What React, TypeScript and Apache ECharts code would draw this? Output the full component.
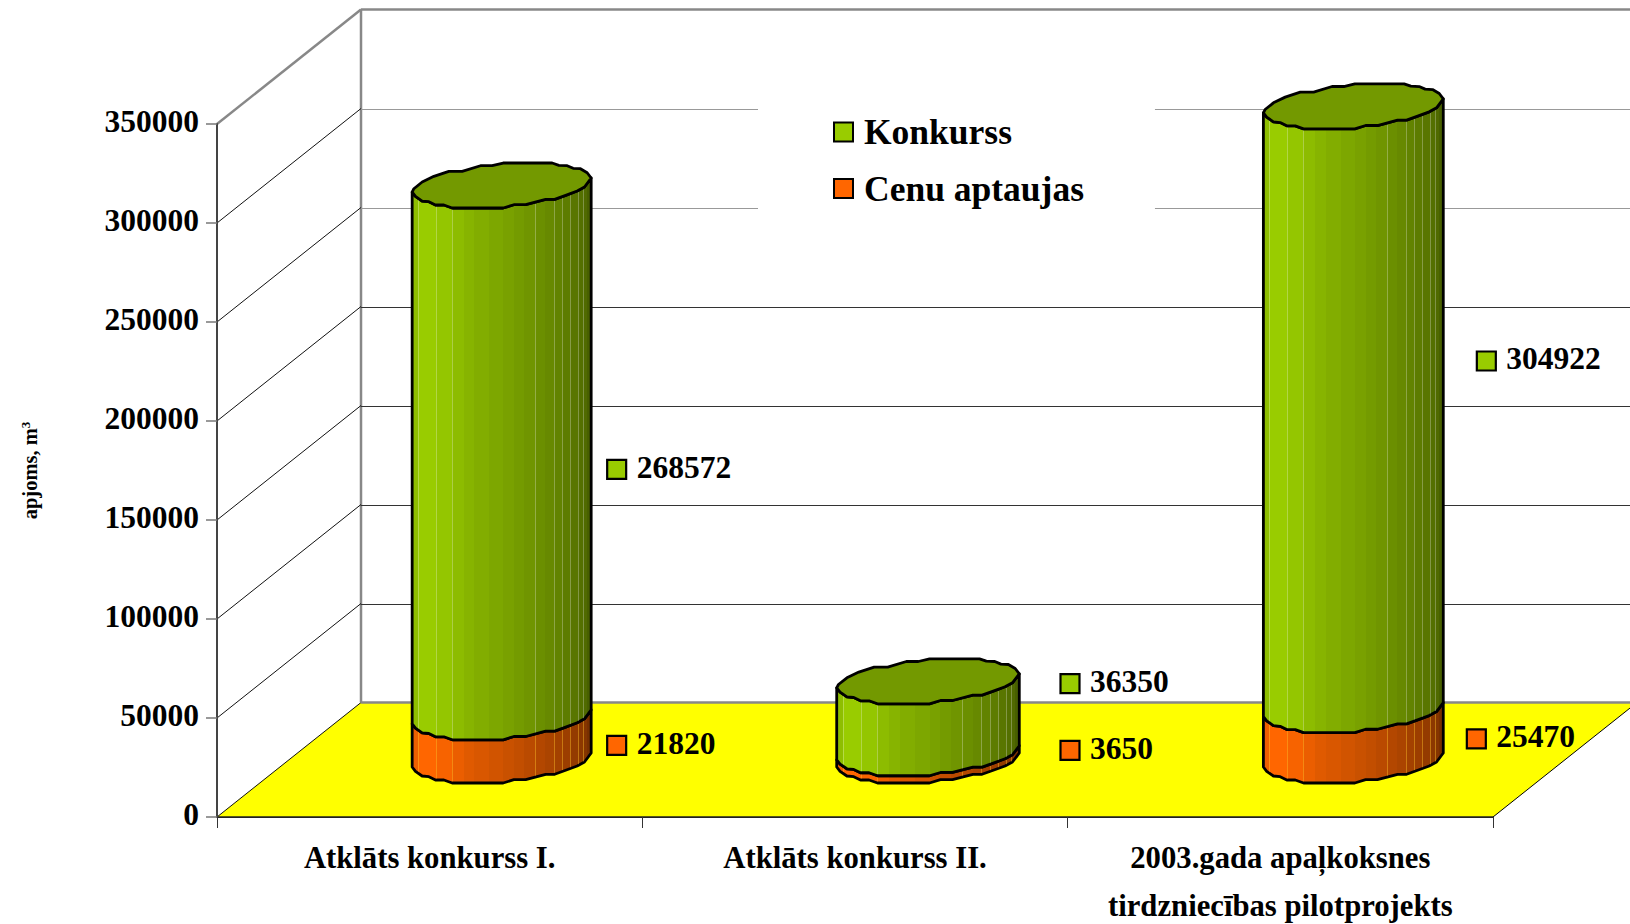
import React, { useEffect, useRef } from "react";
import * as echarts from "echarts";

const categories = [
  "Atklāts konkurss I.",
  "Atklāts konkurss II.",
  "2003.gada apaļkoksnes\ntirdzniecības pilotprojekts",
];
const konkurss = [268572, 36350, 304922];
const cenuAptaujas = [21820, 3650, 25470];
const yTicks = [0, 50000, 100000, 150000, 200000, 250000, 300000, 350000];

const FONT = '"Liberation Serif", "Times New Roman", serif';
const DEPTH_X = 144;
const DEPTH_Y = -114.5;
const MID_X = 72;
const MID_Y = -57;

// Outline of the faceted cylinder cap, clockwise from its left corner.
const OUTLINE: number[][] = [
  [-89.5, 7], [-87.8, 3.7], [-79.5, -3], [-67.8, -8.7], [-52.8, -13.7], [-39.5, -13.7],
  [-21.2, -19.3], [-9.5, -19.3], [1.5, -22], [50.5, -22], [57.2, -19.7], [65.5, -19.3],
  [71.5, -16.7], [78.8, -16.3], [85.5, -12.3], [89.5, -7], [82.8, 2], [75.5, 6],
  [64, 10.3], [53, 14.3], [44, 14.3], [24, 19.7], [12.2, 19.7], [1.5, 23],
  [-49.5, 23], [-57.8, 20], [-66.2, 20], [-72.8, 16.7], [-79.5, 16], [-86.2, 11.3],
];
const LOWER_ARC = OUTLINE.slice(15).concat([OUTLINE[0]]);
const BAND_EDGES = [-89.5, -83.5, -65.8, -49.8, -37.8, -27.2, -12.5, 1.5, 12.2, 22.8, 33.2, 43.8, 52.2, 60.5, 68.2, 76.2, 81.2, 85.5, 89.5];
const BAND_LIGHT = [0.93, 1, 0.97, 0.92, 0.88, 0.85, 0.82, 0.79, 0.76, 0.73, 0.7, 0.67, 0.64, 0.61, 0.58, 0.55, 0.52, 0.47];
const SEAMS = [-83.5, -65.8, -49.8, 33.2, 52.2, 60.5, 68.2, 76.2, 81.2];
const COLUMN_SCALE = [1, 1.02, 1.005];
const COLUMN_SHIFT = [0, 1, 1];

const LABEL_NUDGE: Record<string, number[][]> = {
  Konkurss: [[105, 18.5], [132, -33.2], [123, -46.7]],
  "Cenu aptaujas": [[105, 7], [132, -6], [113, 4]],
};

function shade(hex: string, f: number) {
  const n = parseInt(hex.slice(1), 16);
  const c = [(n >> 16) & 255, (n >> 8) & 255, n & 255].map((v) => Math.round(v * f));
  return `rgb(${c[0]},${c[1]},${c[2]})`;
}

function bandedFill(hex: string) {
  const stops: any[] = [];
  const w = BAND_EDGES[BAND_EDGES.length - 1] - BAND_EDGES[0];
  BAND_LIGHT.forEach((f, i) => {
    const color = shade(hex, f);
    stops.push({ offset: (BAND_EDGES[i] - BAND_EDGES[0]) / w, color });
    stops.push({ offset: (BAND_EDGES[i + 1] - BAND_EDGES[0]) / w, color });
  });
  return new echarts.graphic.LinearGradient(0, 0, 1, 0, stops);
}

function arcY(x: number) {
  for (let i = 0; i < LOWER_ARC.length - 1; i++) {
    const a = LOWER_ARC[i];
    const b = LOWER_ARC[i + 1];
    if (x <= a[0] && x >= b[0]) {
      const t = a[0] === b[0] ? 0 : (a[0] - x) / (a[0] - b[0]);
      return a[1] + (b[1] - a[1]) * t;
    }
  }
  return 0;
}

function stackSeries(name: string, color: string, seamColor: string, capColor: string | null, values: number[], bases: number[], z: number) {
  return {
    type: "custom",
    name,
    z,
    clip: false,
    itemStyle: { color },
    encode: { x: 0, y: 2 },
    data: values.map((v, i) => [i, bases[i], bases[i] + v, v]),
    renderItem: (_p: any, api: any) => {
      const idx = api.value(0);
      const low = api.coord([idx, api.value(1)]);
      const high = api.coord([idx, api.value(2)]);
      const s = COLUMN_SCALE[idx];
      const cx = low[0] + MID_X + COLUMN_SHIFT[idx];
      const by = low[1] + MID_Y;
      const ty = high[1] + MID_Y;
      const top = LOWER_ARC.map((p) => [cx + p[0] * s, ty + p[1]]);
      const bottom = LOWER_ARC.map((p) => [cx + p[0] * s, by + p[1]]).reverse();
      const children: any[] = [
        {
          type: "polygon",
          shape: { points: top.concat(bottom) },
          style: { fill: bandedFill(color), stroke: "#000", lineWidth: 2.8, lineJoin: "round" },
        },
      ];
      SEAMS.forEach((x) => {
        const sx = Math.round(cx + x * s) + 0.5;
        const y = arcY(x);
        children.push({
          type: "line",
          shape: { x1: sx, y1: ty + y + 1.5, x2: sx, y2: by + y - 1.5 },
          style: { stroke: seamColor, lineWidth: 1 },
        });
      });
      if (capColor) {
        children.push({
          type: "polygon",
          shape: { points: OUTLINE.map((p) => [cx + p[0] * s, ty + p[1]]) },
          style: { fill: capColor, stroke: "#000", lineWidth: 2.8, lineJoin: "round" },
        });
      }
      const nudge = LABEL_NUDGE[name][idx];
      const lx = cx + nudge[0];
      const ly = (by + ty) / 2 + nudge[1];
      children.push({
        type: "rect",
        shape: { x: lx + 0.5, y: ly - 9.5, width: 19, height: 19 },
        style: { fill: color, stroke: "#000", lineWidth: 2.2 },
      });
      children.push({
        type: "text",
        x: lx + 30,
        y: ly - 2,
        style: {
          text: String(api.value(3)),
          fontFamily: FONT,
          fontWeight: "bold",
          fontSize: 31.5,
          fill: "#000",
          align: "left",
          verticalAlign: "middle",
        },
      });
      return { type: "group", children };
    },
  };
}

export default function App() {
  const ref = useRef<HTMLDivElement>(null);
  useEffect(() => {
    const chart = echarts.init(ref.current!, undefined, { renderer: "svg" });
    const wallSeries = {
      type: "custom",
      name: "walls",
      z: 1,
      silent: true,
      clip: false,
      encode: { x: 0, y: 1 },
      data: [[0, 0]],
      renderItem: (p: any, api: any) => {
        const g = p.coordSys;
        const left = g.x;
        const right = g.x + g.width;
        const floorY = api.coord([0, 0])[1];
        const topY = api.coord([0, yTicks[yTicks.length - 1]])[1];
        const bx = left + DEPTH_X;
        return {
          type: "group",
          children: [
            {
              type: "polygon",
              shape: { points: [[left, floorY], [right, floorY], [right + DEPTH_X, floorY + DEPTH_Y], [bx, floorY + DEPTH_Y]] },
              style: { fill: "#ffff00", stroke: "none" },
            },
            { type: "line", shape: { x1: left, y1: floorY, x2: right, y2: floorY }, style: { stroke: "#222", lineWidth: 1.5 } },
            { type: "line", shape: { x1: right, y1: floorY, x2: right + DEPTH_X, y2: floorY + DEPTH_Y }, style: { stroke: "#000", lineWidth: 1 } },
            { type: "line", shape: { x1: left, y1: floorY, x2: bx, y2: floorY + DEPTH_Y }, style: { stroke: "#111", lineWidth: 1 } },
            { type: "line", shape: { x1: bx, y1: floorY + DEPTH_Y, x2: right + DEPTH_X, y2: floorY + DEPTH_Y }, style: { stroke: "#888", lineWidth: 2.5 } },
            { type: "line", shape: { x1: left, y1: topY, x2: bx, y2: topY + DEPTH_Y }, style: { stroke: "#888", lineWidth: 2.5 } },
            { type: "line", shape: { x1: bx, y1: topY + DEPTH_Y, x2: right + DEPTH_X, y2: topY + DEPTH_Y }, style: { stroke: "#888", lineWidth: 2.5 } },
            { type: "line", shape: { x1: bx, y1: topY + DEPTH_Y, x2: bx, y2: floorY + DEPTH_Y }, style: { stroke: "#888", lineWidth: 2.5 } },
          ],
        };
      },
    };
    const gridSeries = {
      type: "custom",
      name: "gridlines",
      z: 1,
      silent: true,
      clip: false,
      encode: { x: 0, y: 1 },
      data: yTicks.slice(1, -1).map((v) => [0, v]),
      renderItem: (p: any, api: any) => {
        const g = p.coordSys;
        const left = g.x;
        const right = g.x + g.width;
        const v = api.value(1);
        const y = api.coord([0, v])[1];
        const by = Math.round(y + DEPTH_Y) + 0.5;
        const light = v >= 250000;
        return {
          type: "group",
          children: [
            { type: "line", shape: { x1: left, y1: y, x2: left + DEPTH_X, y2: y + DEPTH_Y }, style: { stroke: "#111", lineWidth: 1 } },
            { type: "line", shape: { x1: left + DEPTH_X, y1: by, x2: right + DEPTH_X, y2: by }, style: { stroke: light ? "#999" : "#333", lineWidth: 1 } },
          ],
        };
      },
    };
    chart.setOption({
      animation: false,
      backgroundColor: "#fff",
      grid: { left: 217, right: 137, top: 124, bottom: 107, outerBoundsMode: "none", containLabel: false },
      legend: {
        show: true,
        left: 758,
        top: 89,
        orient: "vertical",
        backgroundColor: "#fff",
        padding: [25, 71, 25, 75],
        itemWidth: 19,
        itemHeight: 19,
        itemGap: 20.5,
        selectedMode: false,
        textStyle: { fontFamily: FONT, fontWeight: "bold", fontSize: 35.5, color: "#000", padding: [0, 0, 0, 6] },
        data: [
          { name: "Konkurss", icon: "rect", itemStyle: { color: "#99cc00", borderColor: "#000", borderWidth: 2 } },
          { name: "Cenu aptaujas", icon: "rect", itemStyle: { color: "#ff6600", borderColor: "#000", borderWidth: 2 } },
        ],
      },
      xAxis: {
        type: "category",
        data: categories,
        boundaryGap: true,
        z: 5,
        axisLine: { show: true, lineStyle: { color: "#222", width: 1 } },
        axisTick: { show: true, alignWithLabel: false, length: 11, lineStyle: { color: "#333", width: 1 } },
        axisLabel: {
          interval: 0,
          margin: 17,
          fontFamily: FONT,
          fontWeight: "bold",
          fontSize: 30.7,
          color: "#000",
          lineHeight: 48,
          align: "center",
          hideOverlap: false,
        },
        splitLine: { show: false },
      },
      yAxis: {
        type: "value",
        min: 0,
        max: 350000,
        interval: 50000,
        z: 5,
        name: "{a|apjoms, m}{b|3}",
        nameLocation: "middle",
        nameGap: 176,
        nameRotate: 90,
        nameTextStyle: {
          color: "#000",
          rich: {
            a: { fontFamily: FONT, fontWeight: "bold", fontSize: 20.5, color: "#000", lineHeight: 22 },
            b: { fontFamily: FONT, fontWeight: "bold", fontSize: 13, color: "#000", lineHeight: 22, verticalAlign: "top" },
          },
        },
        axisLine: { show: true, lineStyle: { color: "#444", width: 2 } },
        axisTick: { show: true, length: 11, lineStyle: { color: "#777", width: 1.5 } },
        axisLabel: {
          margin: 18,
          fontFamily: FONT,
          fontWeight: "bold",
          fontSize: 31.5,
          color: "#000",
          verticalAlign: "bottom",
          lineHeight: 6,
          formatter: (v: number) => String(v),
        },
        splitLine: { show: false },
      },
      series: [
        wallSeries,
        gridSeries,
        stackSeries("Cenu aptaujas", "#ff6600", "rgba(255,190,40,0.45)", null, cenuAptaujas, [0, 0, 0], 3),
        stackSeries("Konkurss", "#99cc00", "rgba(255,255,255,0.28)", "#739900", konkurss, cenuAptaujas, 4),
      ],
    });
    return () => chart.dispose();
  }, []);
  return (
    <div
      ref={ref}
      style={{ position: "absolute", left: 0, top: 0, width: 1630, height: 924 }}
    />
  );
}
